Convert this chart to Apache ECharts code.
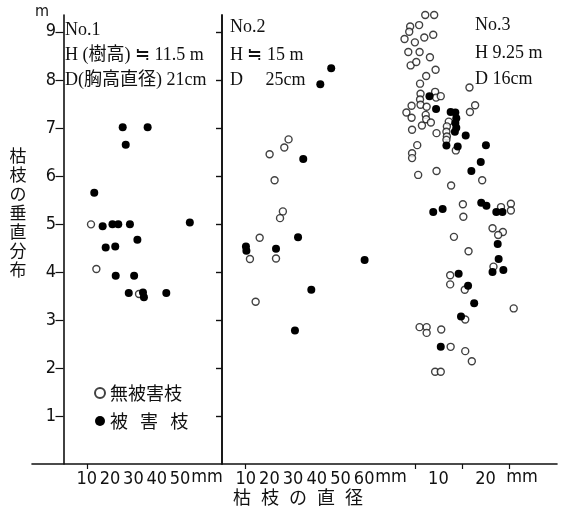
<!DOCTYPE html>
<html>
<head>
<meta charset="utf-8">
<script src="https://cdn.jsdelivr.net/npm/echarts@6/dist/echarts.min.js"></script>
<style>
html, body { margin: 0; padding: 0; background: #fff; }
#chart { width: 563px; height: 510px; }
</style>
</head>
<body>
<div id="chart"></div>
<script>
// 枯枝の垂直分布 (m) vs 枯枝の直径 (mm), three trees
var heightTicks = [1, 2, 3, 4, 5, 6, 7, 8, 9];
var diamLabels1 = [10, 20, 30, 40, 50];
var diamTicks1 = [10];
var diamLabels2 = [10, 20, 30, 40, 50, 60];
var diamTicks2 = [10];
var diamLabels3 = [10, 20];
var diamTicks3 = [5, 15, 25];

var legendNames = ['無被害枝', '被   害   枝'];
var treeNotes1 = ['No.1', 'H (樹高) ≒ 11.5 m', 'D(胸高直径) 21cm'];
var treeNotes2 = ['No.2', 'H ≒ 15 m', 'D     25cm'];
var treeNotes3 = ['No.3', 'H 9.25 m', 'D 16cm'];
var yTitle = ['枯', '枝', 'の', '垂', '直', '分', '布'];
var xTitle = ['枯', '枝', 'の', '直', '径'];

// [diameter mm, height m]
var tree1Open = [[11.8, 4.99], [14.1, 4.06], [32.4, 3.54]];
var tree1Hit = [
  [25.4, 7.01], [36.1, 7.01], [26.7, 6.65], [13.2, 5.65],
  [16.8, 4.95], [21.0, 4.99], [23.5, 4.99], [28.5, 4.99], [54.2, 5.03],
  [31.7, 4.67], [18.1, 4.51], [22.2, 4.53], [22.4, 3.92], [30.3, 3.92],
  [28.0, 3.56], [34.1, 3.57], [34.5, 3.47], [44.1, 3.56]
];
var tree2Open = [
  [28.1, 6.76], [26.3, 6.59], [20.1, 6.45], [22.2, 5.91], [25.7, 5.26],
  [24.5, 5.12], [15.9, 4.71], [11.8, 4.27], [22.8, 4.28], [14.2, 3.38]
];
var tree2Hit = [
  [46.1, 8.24], [41.5, 7.91], [34.3, 6.35], [32.1, 4.72], [10.1, 4.53],
  [10.3, 4.44], [22.8, 4.48], [60.2, 4.25], [37.7, 3.63], [30.8, 2.78]
];
var tree3Open = [
  [7.2, 9.35], [9.1, 9.35], [4.0, 9.11], [5.9, 9.14], [3.8, 9.0],
  [2.8, 8.85], [5.0, 8.78], [7.0, 8.88], [8.9, 8.94],
  [3.6, 8.58], [6.0, 8.58], [8.2, 8.47], [4.1, 8.30], [5.3, 8.37], [9.4, 8.21],
  [7.4, 8.08], [6.1, 7.92], [16.6, 7.84],
  [6.2, 7.71], [9.3, 7.75], [9.5, 7.63], [10.5, 7.66],
  [6.1, 7.59], [6.2, 7.48], [4.3, 7.46], [7.5, 7.44], [17.8, 7.47], [16.7, 7.33],
  [3.2, 7.32], [4.3, 7.21], [7.3, 7.27], [7.4, 7.18], [6.5, 7.05], [8.4, 7.11],
  [4.4, 6.96], [9.6, 6.89],
  [12.2, 7.13], [11.8, 7.03], [11.7, 6.92], [11.8, 6.82], [11.7, 6.75],
  [13.7, 6.53], [5.5, 6.64], [4.4, 6.47], [4.4, 6.37],
  [5.7, 6.02], [9.6, 6.10], [19.3, 5.91], [12.7, 5.80],
  [15.2, 5.41], [15.3, 5.15], [23.3, 5.35], [25.4, 5.42], [25.4, 5.28],
  [21.5, 4.91], [23.7, 4.83], [22.7, 4.77], [13.3, 4.73], [16.4, 4.43],
  [21.7, 4.11], [12.5, 3.93], [12.5, 3.74], [15.6, 3.63],
  [26.0, 3.24], [15.7, 3.01], [6.0, 2.85], [7.5, 2.85], [7.5, 2.73], [10.6, 2.80],
  [12.6, 2.44], [15.7, 2.35], [17.1, 2.14], [9.3, 1.92], [10.5, 1.92]
];
var tree3Hit = [
  [8.1, 7.66], [9.5, 7.39],
  [12.6, 7.33], [13.6, 7.32], [13.8, 7.2], [13.6, 7.1], [13.8, 7.0], [13.5, 6.92],
  [11.7, 6.63], [15.8, 6.84], [14.1, 6.61], [20.1, 6.64], [19.0, 6.29], [17.0, 6.10],
  [8.9, 5.25], [10.9, 5.31], [19.1, 5.44], [20.2, 5.38], [22.3, 5.25], [23.6, 5.25],
  [22.6, 4.58], [22.8, 4.27], [21.5, 4.0], [23.8, 4.04], [14.3, 3.96], [16.3, 3.71],
  [17.6, 3.35], [14.8, 3.07], [10.5, 2.44]
];

var ink = '#111';
var numFont = "'Liberation Sans Narrow', 'DejaVu Sans Condensed', sans-serif";
var noteFont = "'Liberation Serif', 'Noto Sans CJK JP', serif";
var cjkFont = "'Noto Sans CJK JP', sans-serif";

function diamAxis(grid, min, max, labels, ticks) {
  return {
    gridIndex: grid, type: 'value', min: min, max: max,
    axisLine: { show: false },
    splitLine: { show: false },
    axisTick: { show: true, customValues: ticks, length: 5, lineStyle: { color: ink, width: 1.2 } },
    axisLabel: { show: true, customValues: labels, margin: 6, color: ink, fontSize: 18, fontFamily: numFont }
  };
}

function sideAxis(grid, pos, line, ticks) {
  return {
    gridIndex: grid, type: 'value', position: pos, min: 0, max: 9.35,
    axisLine: { show: line, lineStyle: { color: ink, width: 1.6 } },
    axisTick: { show: ticks, inside: true, customValues: heightTicks, length: 6, lineStyle: { color: ink, width: 1.2 } },
    axisLabel: { show: false },
    splitLine: { show: false }
  };
}

function openSeries(x, y, data) {
  return {
    name: legendNames[0], type: 'scatter', xAxisIndex: x, yAxisIndex: y, data: data,
    symbol: 'circle', symbolSize: 7, clip: false,
    itemStyle: { color: '#fff', borderColor: ink, borderWidth: 1.4 }
  };
}

function hitSeries(x, y, data) {
  return {
    name: legendNames[1], type: 'scatter', xAxisIndex: x, yAxisIndex: y, data: data,
    symbol: 'circle', symbolSize: 8, clip: false,
    itemStyle: { color: '#000', opacity: 1 }
  };
}

function notes(lines, x, ys) {
  return lines.map(function(t, i) {
    return { type: 'text', x: x, y: ys[i], style: { text: t, fill: ink, font: '18px ' + noteFont, verticalAlign: 'middle' } };
  });
}

var graphics = [];
graphics = graphics.concat(notes(treeNotes1, 65, [30, 55, 80]));
graphics = graphics.concat(notes(treeNotes2, 230, [27, 55, 80]));
graphics = graphics.concat(notes(treeNotes3, 475, [25, 53, 79]));
yTitle.forEach(function(c, i) {
  graphics.push({ type: 'text', x: 18, y: 156 + i * 19, style: { text: c, fill: ink, font: '17px ' + cjkFont, align: 'center', verticalAlign: 'middle' } });
});
xTitle.forEach(function(c, i) {
  graphics.push({ type: 'text', x: 242 + i * 28, y: 497, style: { text: c, fill: ink, font: '18px ' + cjkFont, align: 'center', verticalAlign: 'middle' } });
});
[[207, 477], [391, 477], [522, 477]].forEach(function(p) {
  graphics.push({ type: 'text', x: p[0], y: p[1], style: { text: 'mm', fill: ink, font: '18px ' + numFont, align: 'center', verticalAlign: 'middle' } });
});
graphics.push({ type: 'text', x: 42, y: 12, style: { text: 'm', fill: ink, font: '16px ' + numFont, align: 'center', verticalAlign: 'middle' } });

var chart = echarts.init(document.getElementById('chart'));
chart.setOption({
  backgroundColor: '#fff',
  animation: false,
  grid: [
    { left: 60, width: 162, top: 15, bottom: 46 },
    { left: 222, width: 167, top: 15, bottom: 46 },
    { left: 389, width: 168, top: 15, bottom: 46 },
    { left: 32, width: 525, top: 15, bottom: 46 }
  ],
  xAxis: [
    diamAxis(0, -1.5, 68, diamLabels1, diamTicks1),
    diamAxis(1, 0, 70.5, diamLabels2, diamTicks2),
    diamAxis(2, -0.5, 35.2, diamLabels3, diamTicks3),
    {
      gridIndex: 3, type: 'value', min: 0, max: 1,
      axisLine: { show: true, lineStyle: { color: ink, width: 1.6 } },
      axisTick: { show: false }, axisLabel: { show: false }, splitLine: { show: false }
    }
  ],
  yAxis: [
    {
      gridIndex: 0, type: 'value', position: 'left', min: 0, max: 9.35,
      axisLine: { show: true, lineStyle: { color: ink, width: 1.6 } },
      axisTick: { show: true, customValues: heightTicks, length: 8, lineStyle: { color: ink, width: 1.2 } },
      axisLabel: { show: true, customValues: heightTicks, margin: 4, color: ink, fontSize: 18, fontFamily: numFont },
      splitLine: { show: false }
    },
    sideAxis(0, 'right', true, true),
    sideAxis(1, 'right', true, true),
    sideAxis(2, 'left', false, false),
    sideAxis(3, 'left', false, false)
  ],
  legend: {
    data: legendNames,
    orient: 'vertical',
    left: 89,
    top: 378,
    itemWidth: 10,
    itemHeight: 10,
    itemGap: 8,
    textStyle: { color: ink, fontSize: 18, fontFamily: cjkFont, lineHeight: 20 }
  },
  series: [
    openSeries(0, 0, tree1Open), hitSeries(0, 0, tree1Hit),
    openSeries(1, 2, tree2Open), hitSeries(1, 2, tree2Hit),
    openSeries(2, 3, tree3Open), hitSeries(2, 3, tree3Hit)
  ],
  graphic: graphics
});
</script>
</body>
</html>
